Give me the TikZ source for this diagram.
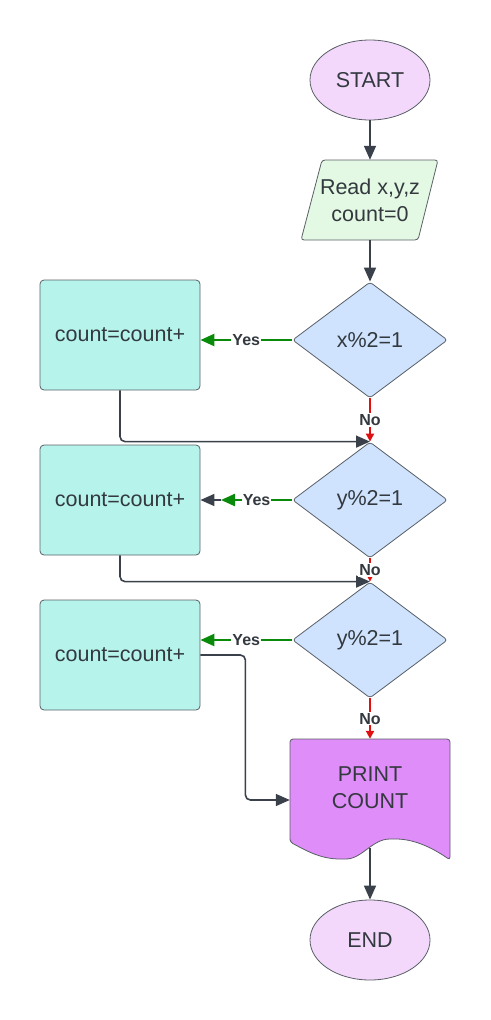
\documentclass[tikz,border=0pt]{standalone}
\usepackage{fontspec}
\setmainfont{Liberation Sans}
\usetikzlibrary{shapes.geometric,arrows.meta}
\definecolor{linec}{HTML}{3A414A}
\definecolor{border}{HTML}{5A5F66}
\definecolor{txt}{HTML}{33393F}
\definecolor{termfill}{HTML}{F3D8FC}
\definecolor{readfill}{HTML}{E3F9E3}
\definecolor{decfill}{HTML}{CFE3FE}
\definecolor{procfill}{HTML}{B6F4EB}
\definecolor{docfill}{HTML}{DF8DF9}
\definecolor{yesc}{HTML}{0A8A0A}
\definecolor{noc}{HTML}{E01010}
\begin{document}
\begin{tikzpicture}[x=1pt,y=-1pt,
  base/.style={font=\fontsize{21.5}{27}\selectfont, text=txt, align=center, inner sep=0pt},
  term/.style={base, ellipse, draw=border, line width=0.8pt, fill=termfill, minimum width=120pt, minimum height=80pt},
  dec/.style={base, diamond, draw=border, line width=0.8pt, fill=decfill, minimum width=155pt, minimum height=116pt, rounded corners=3pt},
  proc/.style={base, rectangle, draw=border, line width=0.8pt, fill=procfill, minimum width=160pt, minimum height=110pt, rounded corners=4pt},
  outline/.style={draw=border, line width=0.8pt, rounded corners=3pt},
  arr/.style={draw=linec, line width=1.6pt, -{Triangle[length=14pt,width=12pt]}},
  conn/.style={arr, rounded corners=5pt},
  yes/.style={draw=yesc, line width=2.4pt, -{Triangle[length=14pt,width=12pt]}},
  no/.style={draw=noc, line width=2.4pt, -{Triangle[length=8pt,width=8pt]}},
  lab/.style={font=\fontsize{16}{18}\selectfont\bfseries, text=txt, fill=white, inner sep=1pt}
]
\useasboundingbox (0,0) rectangle (490,1020);

% shapes drawn directly
\path[outline, fill=readfill] (301,240) -- (322,160) -- (438,160) -- (418,240) -- cycle;
\path[outline, fill=docfill] (290,842) -- (290,739) -- (450,739) -- (450,860)
  .. controls (430,846) and (412,839) .. (393,839)
  .. controls (372,839) and (362,859) .. (343,859)
  .. controls (320,859) and (305,850) .. (290,842) -- cycle;

% nodes
\node[term] (start) at (370,80) {START};
\node[base, minimum width=116pt, minimum height=80pt] (read) at (370,200) {Read x,y,z\\count=0};
\node[dec] (d1) at (370,340) {x\%2=1};
\node[dec] (d2) at (370,500) {y\%2=1};
\node[dec] (d3) at (370,640) {y\%2=1};
\node[proc] (b1) at (120,335) {count=count+};
\node[proc] (b2) at (120,500) {count=count+};
\node[proc] (b3) at (120,655) {count=count+};
\node[base, minimum width=160pt, minimum height=98pt] (print) at (370,788) {PRINT\\COUNT};
\node[term] (end) at (370,940) {END};
\coordinate (y2) at (221,500);

% connectors
\draw[arr] (start) -- (read);
\draw[arr] (read) -- (d1);

\draw[yes] (d1.west) -- node[lab] {Yes} (d1.west -| b1.east);
\draw[yes] (d2.west) -- node[lab] {Yes} (y2);
\draw[arr] (y2) -- (b2.east);
\draw[yes] (d3.west) -- node[lab] {Yes} (d3.west -| b3.east);

\draw[conn] (b1.south) |- (d2.north);
\draw[conn] (b2.south) |- (d3.north);
\draw[conn] (b3.east) -- ++(45,0) |- ([yshift=-12pt]print.west);

\draw[no] (d1.south) -- node[lab] {No} (d2.north);
\draw[no] (d2.south) -- node[lab] {No} (d3.north);
\draw[no] (d3.south) -- node[lab] {No} (print.north);

\draw[arr] ([yshift=-11pt]print.south) -- (end.north);
\end{tikzpicture}
\end{document}
